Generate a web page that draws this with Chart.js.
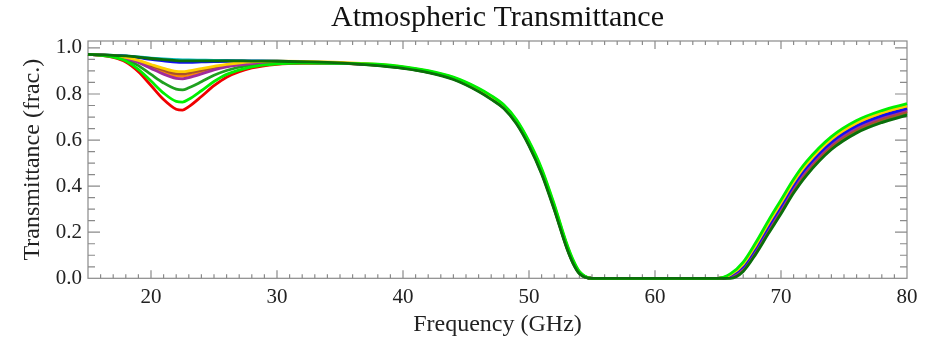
<!DOCTYPE html>
<html>
<head>
<meta charset="utf-8">
<script src="https://cdn.jsdelivr.net/npm/chart.js"></script>
<style>
  html, body { margin: 0; padding: 0; background: #fff; }
</style>
</head>
<body>
<canvas id="mycanvas" width="935" height="342"></canvas>
<script>
// frequency grid (GHz)
var freq = [15,16,17,18,19,20,21,22,22.5,23,24,25,26,28,30,32,35,
            38,40,42,44,46,47,48,49,50,51,52,53,53.5,54,55,60,65,
            66,67,68,69,70,71,72,74,76,78,80];

var cyanT   = [.972,.970,.968,.965,.961,.956,.952,.949,.948,.948,.947,.946,.946,.944,.943,.940,.935,
               .926,.915,.897,.868,.818,.785,.745,.680,.586,.466,.311,.141,.072,.025,0,0,0,
               .011,.051,.131,.223,.312,.402,.477,.588,.659,.703,.734];
var dgreenT = [.972,.970,.968,.965,.960,.954,.949,.945,.944,.944,.944,.944,.944,.943,.942,.940,.935,
               .923,.911,.893,.863,.811,.777,.737,.671,.575,.453,.298,.130,.064,.020,0,0,0,
               0,.030,.105,.194,.280,.370,.445,.559,.631,.676,.708];
var blueT   = [.972,.970,.967,.964,.958,.950,.944,.938,.937,.937,.939,.941,.942,.942,.942,.939,.935,
               .926,.916,.898,.869,.819,.786,.746,.681,.587,.467,.312,.142,.073,.026,0,0,0,
               .012,.053,.134,.226,.315,.405,.480,.591,.662,.706,.737];
var goldT   = [.972,.969,.966,.959,.946,.928,.911,.898,.897,.900,.910,.920,.929,.940,.942,.941,.937,
               .928,.917,.899,.871,.822,.790,.750,.685,.591,.472,.317,.146,.077,.028,0,0,0,
               .016,.062,.145,.239,.328,.418,.493,.604,.674,.718,.748];
var brownT  = [.972,.969,.965,.958,.943,.923,.903,.888,.887,.891,.902,.915,.925,.935,.939,.938,.934,
               .925,.913,.895,.866,.815,.781,.741,.676,.581,.460,.305,.136,.068,.023,0,0,0,
               .006,.041,.119,.209,.297,.387,.462,.574,.646,.690,.722];
var orangeT = [.972,.969,.965,.957,.940,.917,.895,.879,.877,.881,.895,.910,.922,.934,.938,.938,.934,
               .927,.916,.898,.870,.820,.788,.748,.683,.589,.469,.314,.144,.075,.027,0,0,0,
               .014,.057,.139,.232,.321,.411,.486,.597,.667,.711,.742];
var purpleT = [.972,.969,.964,.955,.937,.911,.886,.868,.866,.871,.887,.905,.918,.932,.938,.937,.934,
               .926,.915,.897,.868,.817,.784,.744,.679,.584,.464,.309,.139,.071,.025,0,0,0,
               .009,.048,.128,.219,.307,.397,.472,.584,.655,.699,.731];
var forestT = [.972,.969,.962,.949,.923,.885,.848,.821,.818,.827,.853,.881,.902,.926,.935,.936,.934,
               .924,.912,.894,.865,.813,.779,.739,.674,.578,.457,.302,.133,.066,.022,0,0,0,
               .003,.036,.113,.202,.289,.379,.454,.567,.639,.684,.716];
var limeT   = [.972,.968,.960,.943,.907,.856,.804,.768,.765,.777,.814,.854,.885,.918,.931,.934,.933,
               .929,.919,.901,.873,.825,.793,.753,.689,.595,.477,.322,.150,.080,.030,0,0,0,
               .020,.070,.155,.250,.340,.430,.505,.615,.685,.728,.758];
var redT    = [.972,.968,.959,.939,.897,.837,.776,.734,.730,.745,.789,.836,.873,.913,.929,.933,.933,
               .925,.914,.896,.867,.816,.783,.743,.677,.582,.461,.306,.137,.070,.024,0,0,0,
               .007,.044,.123,.214,.301,.391,.466,.579,.650,.694,.726];

var xTicks = [20,30,40,50,60,70,80];
var yTicks = [0.0,0.2,0.4,0.6,0.8,1.0];

function pts(vals) {
  var out = [];
  for (var i = 0; i < freq.length; i++) out.push({x: freq[i], y: vals[i]});
  return out;
}

function line(vals, col) {
  return {
    data: pts(vals),
    borderColor: col,
    backgroundColor: col,
    borderWidth: 2.8,
    pointRadius: 0,
    fill: false,
    cubicInterpolationMode: 'monotone',
    clip: 4
  };
}

// box round the plot with inward minor/major ticks on all four sides
var framePlugin = {
  id: 'frame',
  beforeDatasetsDraw: function(chart) {
    var ctx = chart.ctx, a = chart.chartArea;
    var xs = chart.scales.x, ys = chart.scales.y;
    ctx.save();
    ctx.strokeStyle = '#8a8a8a';
    ctx.lineWidth = 1.2;
    ctx.beginPath();
    for (var f = 16; f < 80; f++) {
      var px = xs.getPixelForValue(f);
      var len = (f % 10 == 0) ? 8 : 4;
      ctx.moveTo(px, a.bottom); ctx.lineTo(px, a.bottom - len);
      ctx.moveTo(px, a.top); ctx.lineTo(px, a.top + len);
    }
    for (var k = 1; k <= 20; k++) {
      var py = ys.getPixelForValue(k * 0.05);
      var l2 = (k % 4 == 0) ? 12 : 7;
      ctx.moveTo(a.left, py); ctx.lineTo(a.left + l2, py);
      ctx.moveTo(a.right, py); ctx.lineTo(a.right - l2, py);
    }
    ctx.stroke();
    ctx.strokeRect(a.left, a.top, a.right - a.left, a.bottom - a.top);
    ctx.restore();
  }
};

Chart.defaults.font.family = "'Liberation Serif', serif";
Chart.defaults.color = '#222';

var ctx = document.getElementById('mycanvas');
var chart = new Chart(ctx, {
  type: 'line',
  data: {
    // first dataset ends up on top
    datasets: [
      line(dgreenT, '#0a6e0a'),
      line(limeT, '#00f000'),
      line(goldT, '#ffd000'),
      line(blueT, '#1010f0'),
      line(purpleT, '#a02c9c'),
      line(brownT, '#a8502c'),
      line(forestT, '#1fa01f'),
      line(orangeT, '#ff8c00'),
      line(redT, '#f00000'),
      line(cyanT, '#00b8c0')
    ]
  },
  options: {
    responsive: false,
    animation: false,
    devicePixelRatio: 1,
    layout: { padding: { left: 0, right: 28, top: 0, bottom: 0 } },
    scales: {
      x: {
        type: 'linear',
        min: 15,
        max: 80,
        afterFit: function(s) { s.height = 63.7; },
        grid: { display: false, drawTicks: false },
        border: { display: false },
        ticks: {
          stepSize: 10,
          includeBounds: false,
          autoSkip: false,
          maxRotation: 0,
          padding: 7,
          font: { size: 21 },
          callback: function(v) { return xTicks.indexOf(v) >= 0 ? String(v) : ''; }
        },
        title: {
          display: true,
          text: 'Frequency (GHz)',
          font: { size: 24 },
          padding: { top: 0, bottom: 3 }
        }
      },
      y: {
        min: 0,
        max: 1.03,
        afterFit: function(s) { s.width = 88; },
        grid: { display: false, drawTicks: false },
        border: { display: false },
        ticks: {
          stepSize: 0.2,
          includeBounds: false,
          padding: 6,
          font: { size: 21 },
          callback: function(v) {
            for (var i = 0; i < yTicks.length; i++) {
              if (Math.abs(yTicks[i] - v) < 1e-6) return yTicks[i].toFixed(1);
            }
            return '';
          }
        },
        title: {
          display: true,
          text: 'Transmittance (frac.)',
          font: { size: 24 },
          padding: { top: 18, bottom: 0 }
        }
      }
    },
    plugins: {
      legend: { display: false },
      tooltip: { enabled: false },
      title: {
        display: true,
        text: 'Atmospheric Transmittance',
        fullSize: false,
        color: '#111',
        font: { size: 30, weight: 'normal' },
        padding: { top: 0, bottom: 5 }
      }
    }
  },
  plugins: [framePlugin]
});
</script>
</body>
</html>
